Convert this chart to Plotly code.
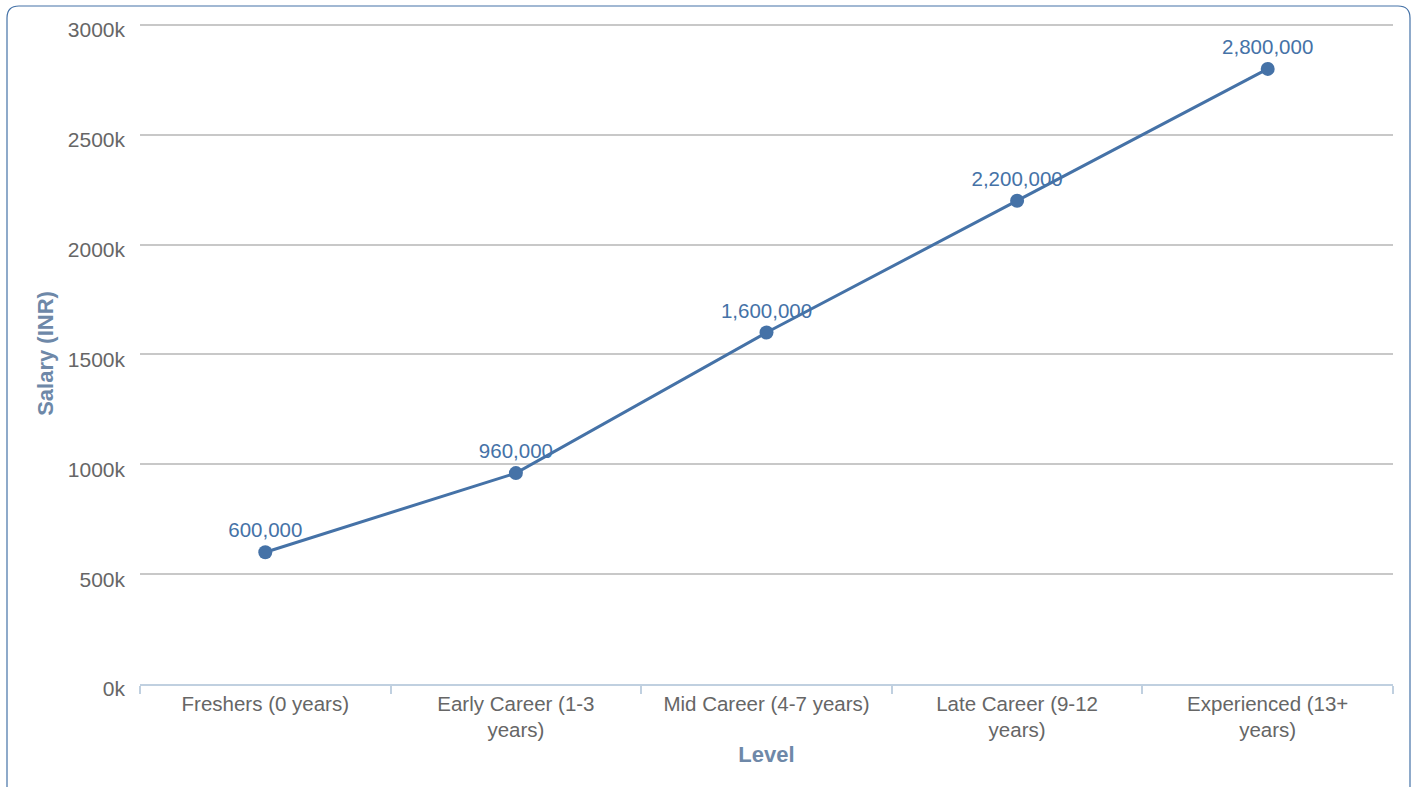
import plotly.graph_objects as go

levels = ["Freshers (0 years)", "Early Career (1-3<br>years)", "Mid Career (4-7 years)",
          "Late Career (9-12<br>years)", "Experienced (13+<br>years)"]
salary = [600000, 960000, 1600000, 2200000, 2800000]
salary_labels = ["600,000", "960,000", "1,600,000", "2,200,000", "2,800,000"]
y_ticks = [0, 500000, 1000000, 1500000, 2000000, 2500000, 3000000]
y_tick_labels = ["0k", "500k", "1000k", "1500k", "2000k", "2500k", "3000k"]

W, H = 1415, 787
ML, MR, MT, MB = 140, 22, 23, 103
pw, ph = W - ML - MR, H - MT - MB

FONT = "Liberation Sans, Arial, Helvetica, sans-serif"
LINE = "#4572A7"

fig = go.Figure()
fig.add_trace(go.Scatter(
    x=levels, y=salary, mode="lines+markers+text",
    line=dict(color=LINE, width=3),
    marker=dict(color=LINE, size=14),
    text=salary_labels, textposition="top center",
    textfont=dict(family=FONT, size=20.5, color=LINE),
    cliponaxis=False, showlegend=False,
))

def px_x(p):
    return (p - ML) / pw

def px_y(p):
    return (H - MB - p) / ph

# rounded border
x0, x1, y0, y1, r = 7, 1410, 6, 800, 12
path = (f"M {px_x(x0)},{px_y(y1)} L {px_x(x0)},{px_y(y0 + r)} "
        f"Q {px_x(x0)},{px_y(y0)} {px_x(x0 + r)},{px_y(y0)} "
        f"L {px_x(x1 - r)},{px_y(y0)} "
        f"Q {px_x(x1)},{px_y(y0)} {px_x(x1)},{px_y(y0 + r)} "
        f"L {px_x(x1)},{px_y(y1)}")
fig.add_shape(type="path", path=path, xref="paper", yref="paper",
              line=dict(color="#4572A7", width=1.2), layer="below")

fig.update_layout(
    width=W, height=H,
    margin=dict(l=ML, r=MR, t=MT, b=MB, autoexpand=False),
    paper_bgcolor="white", plot_bgcolor="white",
    font=dict(family=FONT, size=20, color="#666666"),
    xaxis=dict(
        type="category", tickson="boundaries", ticks="outside", ticklen=8,
        tickcolor="#C0D0E0", tickwidth=1.5,
        showline=True, linecolor="#C0D0E0", linewidth=2,
        showgrid=False, automargin=False,
        tickfont=dict(family=FONT, size=20.5, color="#666666"),
        title=dict(text="<b>Level</b>", font=dict(family=FONT, size=22, color="#6E88A8"), standoff=6),
        range=[-0.5, 4.5],
    ),
    yaxis=dict(
        range=[0, 3009000], tickvals=y_ticks, ticktext=y_tick_labels,
        showgrid=True, gridcolor="#C8C8C8", gridwidth=1.5,
        zeroline=False, showline=False, automargin=False,
        ticklabelstandoff=14, ticklabelshift=5,
        tickfont=dict(family=FONT, size=21, color="#666666"),
        title=dict(text="<b>Salary (INR)</b>", font=dict(family=FONT, size=22, color="#6E88A8"), standoff=8),
    ),
)

fig.write_html("out.html", config={"displayModeBar": False},
               post_script="document.body.style.margin='0';")
